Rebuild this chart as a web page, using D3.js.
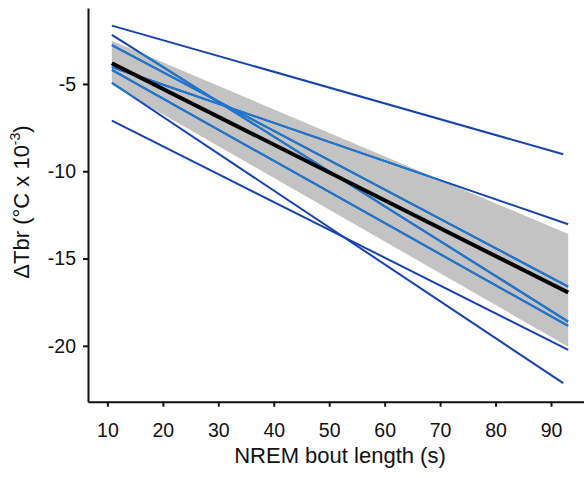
<!DOCTYPE html>
<html>
<head>
<meta charset="utf-8">
<script src="https://cdn.jsdelivr.net/npm/d3@7"></script>
<style>
  body { margin: 0; background: #fff; }
  text { font-family: "Liberation Sans", Arial, sans-serif; }
</style>
</head>
<body>
<div id="chart"></div>
<script>
// Per-animal regression lines: Tbr change vs NREM bout length
const subjectStart = [-1.66, -2.19, -2.77, -4.03, -4.20, -4.93, -7.10];
const subjectEnd = [-9.03, -18.61, -16.61, -13.04, -18.86, -22.14, -20.23];
const subjectLastBout = [92.2, 93.1, 93.1, 93.1, 93.1, 92.2, 93.1];
const firstBout = 10.8;

// Group fit and its confidence band
const fitBouts = [10.8, 93.1];
const fitValues = [-3.81, -16.95];
const bandUpper = [-2.52, -13.6];
const bandLower = [-5.06, -20.05];

const xTicks = [10, 20, 30, 40, 50, 60, 70, 80, 90];
const yTicks = [-5, -10, -15, -20];

const width = 584;
const height = 478;

const svg = d3.select('#chart').append('svg')
  .attr('width', width)
  .attr('height', height);

const x = d3.scaleLinear().domain([6.5, 95.95]).range([88, 584]);
const y = d3.scaleLinear().domain([-23.2, -0.65]).range([401.7, 8]);

// band polygon
const bandData = fitBouts.map((b, i) => ({ b: b, lo: bandLower[i], hi: bandUpper[i] }));
const area = d3.area()
  .x(d => x(d.b))
  .y0(d => y(d.lo))
  .y1(d => y(d.hi));

svg.append('clipPath')
  .attr('id', 'bandClip')
  .append('path')
  .attr('d', area(bandData));

svg.append('path')
  .attr('d', area(bandData))
  .attr('fill', '#c3c3c3');

const subjects = subjectStart.map((s, i) => [
  { b: firstBout, v: s },
  { b: subjectLastBout[i], v: subjectEnd[i] }
]);
const line = d3.line().x(d => x(d.b)).y(d => y(d.v));

// lines look darker on white and lighter over the grey band
svg.append('g').selectAll('path')
  .data(subjects)
  .enter().append('path')
  .attr('d', line)
  .attr('fill', 'none')
  .attr('stroke', '#1843ad')
  .attr('stroke-width', 2);

svg.append('g')
  .attr('clip-path', 'url(#bandClip)')
  .selectAll('path')
  .data(subjects)
  .enter().append('path')
  .attr('d', line)
  .attr('fill', 'none')
  .attr('stroke', '#1f78cc')
  .attr('stroke-width', 2);

// group fit
svg.append('path')
  .attr('d', line(fitBouts.map((b, i) => ({ b: b, v: fitValues[i] }))))
  .attr('fill', 'none')
  .attr('stroke', '#000')
  .attr('stroke-width', 4);

// axes (plain hyphen for negatives, like the original)
const fmt = d => String(d);
const xAxis = svg.append('g')
  .attr('transform', 'translate(0,401.7)')
  .call(d3.axisBottom(x).tickValues(xTicks).tickFormat(fmt)
    .tickSizeInner(5).tickSizeOuter(0).tickPadding(16));

const yAxis = svg.append('g')
  .attr('transform', 'translate(88,0)')
  .call(d3.axisLeft(y).tickValues(yTicks).tickFormat(fmt)
    .tickSizeInner(5).tickSizeOuter(0).tickPadding(7));

[xAxis, yAxis].forEach(a => {
  a.selectAll('path, line').attr('stroke', '#111').attr('stroke-width', 2);
  a.selectAll('text').attr('font-size', '19.5px').attr('fill', '#111')
    .style('font-family', '"Liberation Sans", Arial, sans-serif');
});
xAxis.selectAll('text').attr('dy', '0.71em');

// axis titles
svg.append('text')
  .attr('x', 340)
  .attr('y', 463)
  .attr('text-anchor', 'middle')
  .attr('font-size', '22px')
  .attr('fill', '#111')
  .text('NREM bout length (s)');

const yTitle = svg.append('text')
  .attr('transform', 'translate(29,202) rotate(-90)')
  .attr('text-anchor', 'middle')
  .attr('font-size', '22px')
  .attr('fill', '#111');
yTitle.append('tspan').text('\u0394Tbr (\u00b0C x 10');
yTitle.append('tspan').attr('font-size', '14px').attr('dy', '-9').text('-3');
yTitle.append('tspan').attr('dy', '9').text(')');
</script>
</body>
</html>
